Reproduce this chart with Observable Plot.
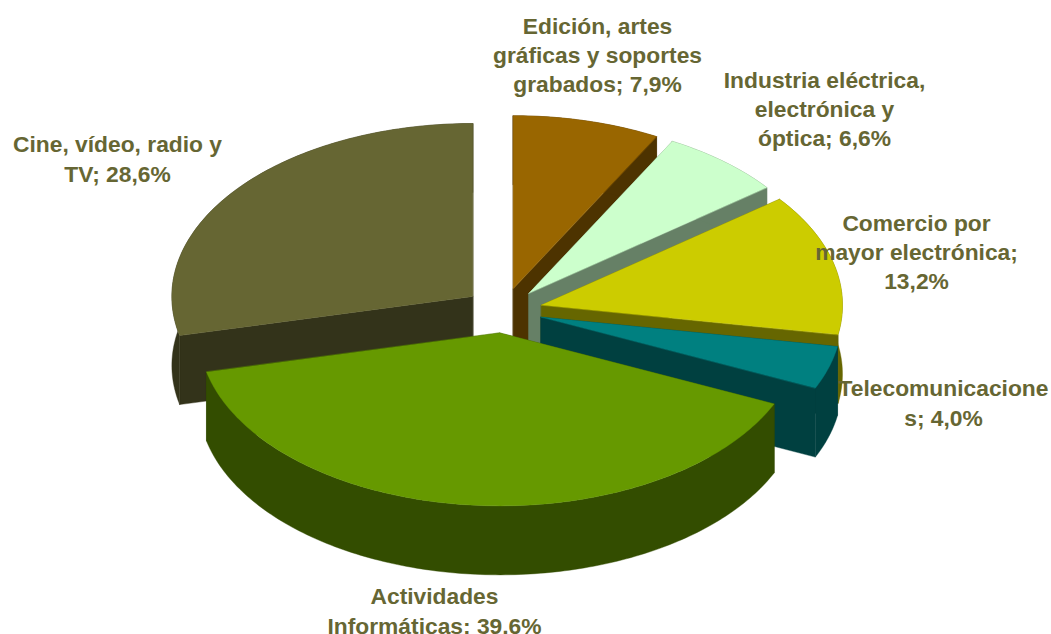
<!DOCTYPE html>
<html>
<head>
<meta charset="utf-8">
<script src="https://cdn.jsdelivr.net/npm/d3@7"></script>
<script src="https://cdn.jsdelivr.net/npm/@observablehq/plot@0.6"></script>
<style>html,body{margin:0;padding:0;background:#fff;overflow:hidden}</style>
</head>
<body>
<div id="chart"></div>
<script>
// Data, clockwise from 12 o'clock
const categories = ["Edición, artes gráficas y soportes grabados", "Industria eléctrica, electrónica y óptica", "Comercio por mayor electrónica", "Telecomunicaciones", "Actividades Informáticas", "Cine, vídeo, radio y TV"];
const shares = [7.9, 6.6, 13.2, 4.0, 39.6, 28.6];
const labels = [
  "Edición, artes\ngráficas y soportes\ngrabados; 7,9%",
  "Industria eléctrica,\nelectrónica y\nóptica; 6,6%",
  "Comercio por\nmayor electrónica;\n13,2%",
  "Telecomunicacione\ns; 4,0%",
  "Actividades\nInformáticas; 39,6%",
  "Cine, vídeo, radio y\nTV; 28,6%"
];
const topColors = ["#996600", "#CCFFCC", "#CCCC00", "#008080", "#669900", "#666633"];
const wallColors = ["#4D3300", "#668066", "#666600", "#004040", "#334D00", "#33331A"];

// Layout of the tilted, exploded pie
const W = 1051, H = 634;
const pie = {cx: 503, cy: 310, rx: 301, ry: 173, depth: 69, explode: 0.13};
const labelX = [597, 824, 916, 943, 434, 117];
const labelY = [53, 107, 250, 401, 609, 157];
const paintOrder = [0, 1, 2, 3, 5, 4];

const total = d3.sum(shares);
const cum = [0, ...d3.cumsum(shares)];
const polys = [];
function addPoly(id, fill, pts) { pts.forEach(p => polys.push({id, fill, x: p[0], y: p[1]})); }

paintOrder.forEach(i => {
  const a0 = cum[i] / total * 2 * Math.PI, a1 = cum[i + 1] / total * 2 * Math.PI, mid = (a0 + a1) / 2;
  const ax = pie.cx + pie.explode * pie.rx * Math.sin(mid);
  const ay = pie.cy - pie.explode * pie.ry * Math.cos(mid);
  const n = Math.max(2, Math.ceil((a1 - a0) * 60));
  const rim = d3.range(n + 1).map(k => {
    const a = a0 + (a1 - a0) * k / n;
    return [ax + pie.rx * Math.sin(a), ay - pie.ry * Math.cos(a)];
  });
  const down = p => [p[0], p[1] + pie.depth];
  const apex = [ax, ay];
  const first = rim[0], last = rim[n];
  addPoly(`w${i}a`, wallColors[i], [apex, first, down(first), down(apex)]);
  addPoly(`w${i}b`, wallColors[i], [apex, last, down(last), down(apex)]);
  addPoly(`w${i}r`, wallColors[i], [...rim, ...rim.slice().reverse().map(down)]);
  addPoly(`t${i}`, topColors[i], [apex, ...rim]);
});

const labelRows = labels.map((text, i) => ({text, x: labelX[i], y: labelY[i]}));

const chart = Plot.plot({
  width: W, height: H,
  margin: 0,
  x: {domain: [0, W], range: [0, W], axis: null},
  y: {domain: [0, H], range: [0, H], axis: null},
  color: {type: "identity"},
  marks: [
    Plot.line(polys, {x: "x", y: "y", z: "id", fill: "fill", stroke: "fill", strokeWidth: 0.4, curve: "linear-closed"}),
    Plot.text(labelRows, {
      x: "x", y: "y", text: "text",
      fontFamily: "Liberation Sans", fontWeight: "bold", fontSize: 22.8,
      lineHeight: 1.29, lineAnchor: "middle", textAnchor: "middle", fill: "#666633"
    })
  ]
});
document.getElementById("chart").appendChild(chart);
</script>
</body>
</html>
